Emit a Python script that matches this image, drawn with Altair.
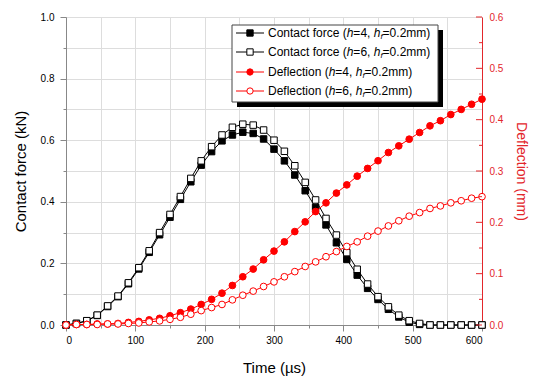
import altair as alt
import pandas as pd

# ---- data ----
time_us = [0, 15, 30, 45, 60, 75, 90, 105, 120, 135,
           150, 165, 180, 195, 210, 225, 240, 255, 270, 285,
           300, 315, 330, 345, 360, 375, 390, 405, 420, 435,
           450, 465, 480, 495, 510, 525, 540, 555, 570, 585, 600]

force_h4 = [0, 0.005, 0.013, 0.031, 0.060, 0.092, 0.134, 0.182, 0.236, 0.293,
            0.350, 0.408, 0.465, 0.519, 0.563, 0.598, 0.617, 0.626, 0.622, 0.604,
            0.571, 0.533, 0.487, 0.436, 0.382, 0.325, 0.267, 0.213, 0.162, 0.119,
            0.083, 0.051, 0.026, 0.009, 0.002, 0, 0, 0, 0, 0, 0]

force_h6 = [0, 0.005, 0.014, 0.032, 0.062, 0.094, 0.137, 0.186, 0.241, 0.300,
            0.359, 0.417, 0.476, 0.533, 0.579, 0.617, 0.642, 0.652, 0.649, 0.633,
            0.600, 0.564, 0.517, 0.463, 0.406, 0.346, 0.292, 0.235, 0.181, 0.133,
            0.092, 0.059, 0.032, 0.014, 0.005, 0, 0, 0, 0, 0, 0]

defl_h4 = [0, 0.001, 0.001, 0.002, 0.002, 0.003, 0.005, 0.007, 0.010, 0.013,
           0.018, 0.024, 0.031, 0.040, 0.050, 0.062, 0.077, 0.094, 0.109, 0.127,
           0.144, 0.162, 0.182, 0.201, 0.221, 0.238, 0.257, 0.273, 0.290, 0.305,
           0.320, 0.336, 0.349, 0.362, 0.375, 0.388, 0.398, 0.410, 0.420, 0.430, 0.440]

defl_h6 = [0, 0.001, 0.001, 0.001, 0.002, 0.002, 0.003, 0.004, 0.006, 0.008,
           0.011, 0.015, 0.021, 0.028, 0.034, 0.040, 0.049, 0.058, 0.066, 0.075,
           0.084, 0.094, 0.104, 0.114, 0.123, 0.133, 0.143, 0.153, 0.162, 0.173,
           0.183, 0.193, 0.203, 0.212, 0.219, 0.227, 0.232, 0.238, 0.242, 0.247, 0.250]

x_ticks = [0, 50, 100, 150, 200, 250, 300, 350, 400, 450, 500, 550, 600]
left_ticks = [0, 0.1, 0.2, 0.3, 0.4, 0.5, 0.6, 0.7, 0.8, 0.9, 1.0]
right_major = [0, 0.1, 0.2, 0.3, 0.4, 0.5, 0.6]
right_minor = [0.05, 0.15, 0.25, 0.35, 0.45, 0.55]

legend_prefix = ["Contact force (", "Contact force (", "Deflection (", "Deflection ("]
legend_h = ["4", "6", "4", "6"]

# ---- styling ----
FONT = "Liberation Sans, Arial, sans-serif"
RED = "#ff0000"
AXRED = "#e3262b"
W, H = 416, 308

df_f4 = pd.DataFrame({"time": time_us, "value": force_h4})
df_f6 = pd.DataFrame({"time": time_us, "value": force_h6})
df_d4 = pd.DataFrame({"time": time_us, "value": defl_h4})
df_d6 = pd.DataFrame({"time": time_us, "value": defl_h6})

X = alt.X("time:Q", scale=alt.Scale(domain=[0, 600], nice=False, zero=False),
          axis=alt.Axis(values=x_ticks, title="Time (µs)",
                        labelExpr="datum.value % 100 == 0 ? datum.label : ''",
                        tickSize={"condition": {"test": "datum.value % 100 == 0", "value": 6}, "value": 3},
                        labelPadding=4, titleX=W / 2, titleY=42, titleBaseline="middle",
                        titleFontSize=15, titleFontWeight="normal"))

YL = alt.Y("value:Q", scale=alt.Scale(domain=[0, 1], nice=False),
           axis=alt.Axis(values=left_ticks, title="Contact force (kN)",
                         labelExpr="round(datum.value*10) % 2 == 0 ? format(datum.value, '.1f') : ''",
                         tickSize={"condition": {"test": "round(datum.value*10) % 2 == 0", "value": 6}, "value": 3},
                         labelPadding=6, titleX=-46, titleY=H / 2, titleBaseline="middle",
                         titleAngle=270, titleFontSize=15, titleFontWeight="normal"))

YR_axis = alt.Axis(values=right_major, title="Deflection (mm)", orient="right",
                   format=".1f", ticks=False, labelPadding=7,
                   domainColor=AXRED, labelColor=AXRED, titleColor=AXRED,
                   titleX=38, titleY=H / 2, titleBaseline="middle", titleAngle=90,
                   titleFontSize=14, titleFontWeight="normal")
YR_scale = alt.Scale(domain=[0, 0.6], nice=False)
YR = alt.Y("value:Q", scale=YR_scale, axis=YR_axis)

f4 = alt.Chart(df_f4).mark_line(
    color="black", strokeWidth=1,
    point=alt.OverlayMarkDef(shape="square", size=42, filled=True, fill="black",
                             stroke="black", strokeWidth=1)
).encode(x=X, y=YL)
f6 = alt.Chart(df_f6).mark_line(
    color="black", strokeWidth=1,
    point=alt.OverlayMarkDef(shape="square", size=42, filled=True, fill="white",
                             stroke="black", strokeWidth=1)
).encode(x=X, y=YL)
force = alt.layer(f4, f6)

d4 = alt.Chart(df_d4).mark_line(
    color=RED, strokeWidth=1,
    point=alt.OverlayMarkDef(shape="circle", size=45, filled=True, fill=RED,
                             stroke=RED, strokeWidth=1)
).encode(x=X, y=YR)
d6 = alt.Chart(df_d6).mark_line(
    color=RED, strokeWidth=1,
    point=alt.OverlayMarkDef(shape="circle", size=45, filled=True, fill="white",
                             stroke=RED, strokeWidth=1)
).encode(x=X, y=YR)
rt_major = alt.Chart(pd.DataFrame({"value": right_major})).mark_rule(color=AXRED, strokeWidth=1).encode(
    y=YR, x=alt.value(W - 6), x2=alt.value(W))
rt_minor = alt.Chart(pd.DataFrame({"value": right_minor})).mark_rule(color=AXRED, strokeWidth=1).encode(
    y=YR, x=alt.value(W - 3), x2=alt.value(W))
defl = alt.layer(d4, d6, rt_major, rt_minor)

# ---- legend (drawn manually, inside the plot) ----
one = pd.DataFrame({"a": [0]})
bx0, bx1, by0, by1 = 232 - 66, 438 - 66, 25 - 17, 102 - 17
legend_layers = [
    alt.Chart(one).mark_rect(color="black").encode(
        x=alt.value(bx0 + 5), x2=alt.value(bx1 + 5), y=alt.value(by0 + 5), y2=alt.value(by1 + 5)),
    alt.Chart(one).mark_rect(fill="white", stroke="#444", strokeWidth=1).encode(
        x=alt.value(bx0), x2=alt.value(bx1), y=alt.value(by0), y2=alt.value(by1)),
]

CW = {"C": 722, "o": 556, "n": 556, "t": 278, "a": 556, "c": 500, " ": 278, "f": 278,
      "r": 333, "e": 556, "(": 333, ")": 333, "h": 556, "=": 584, "4": 556, "6": 556,
      ",": 278, "0": 556, ".": 278, "2": 556, "m": 833, "D": 722, "l": 222, "i": 222}


def tw(s, size):
    return sum(CW.get(ch, 556) for ch in s) * size / 1000.0


row_y = [33 - 17, 52 - 17, 72 - 17, 91 - 17]
styles = [("black", "square", "black"), ("black", "square", "white"),
          (RED, "circle", RED), (RED, "circle", "white")]
for i in range(4):
    y = row_y[i]
    col, shp, fil = styles[i]
    legend_layers.append(
        alt.Chart(one).mark_rule(color=col, strokeWidth=1).encode(
            x=alt.value(236 - 66), x2=alt.value(264 - 66), y=alt.value(y)))
    legend_layers.append(
        alt.Chart(one).mark_point(shape=shp, size=40, filled=True, fill=fil, stroke=col,
                                  strokeWidth=1, opacity=1).encode(
            x=alt.value(250 - 66), y=alt.value(y)))
    segs = [(legend_prefix[i], "normal", 12, 0),
            ("h", "italic", 12, 0),
            ("=" + legend_h[i] + ", ", "normal", 12, 0),
            ("h", "italic", 12, 0),
            ("f", "italic", 8, 4),
            ("=0.2mm)", "normal", 12, 0)]
    x = 268 - 66
    for txt, sty, sz, dy in segs:
        legend_layers.append(
            alt.Chart(one).mark_text(text=txt, font=FONT, fontSize=sz, fontStyle=sty,
                                     align="left", baseline="middle", color="black").encode(
                x=alt.value(x), y=alt.value(y + dy)))
        x += tw(txt, sz)

chart = alt.layer(force, defl, *legend_layers).resolve_scale(y="independent").properties(
    width=W, height=H,
    autosize=alt.AutoSizeParams(type="none"),
    padding={"left": 66, "top": 17, "right": 533 - 66 - W, "bottom": 377 - 17 - H},
).configure_view(stroke="black", strokeWidth=1).configure_axis(
    grid=False, labelFont=FONT, titleFont=FONT, labelFontSize=12,
    titleFontWeight="normal", labelColor="#222", titleColor="#111",
    domainColor="black", tickColor="black", domainWidth=1, tickWidth=1
).configure(background="white")

chart.save("out.html", embed_options={"renderer": "svg", "actions": False})
